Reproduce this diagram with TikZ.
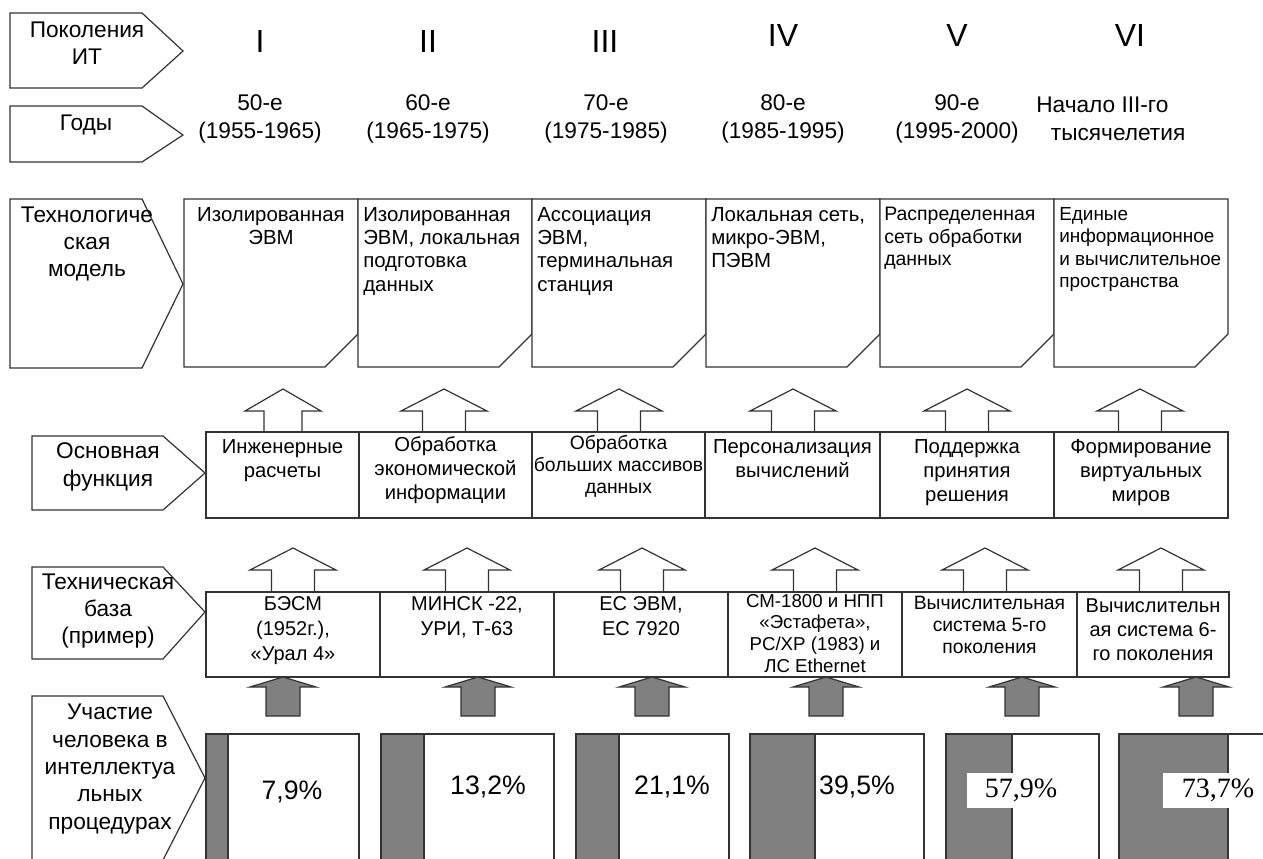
\documentclass[tikz,border=0pt]{standalone}
\usepackage{fontspec}
\setmainfont{Liberation Sans}
\newfontfamily\timesfont{Liberation Serif}
\begin{document}
\begin{tikzpicture}[x=0.75pt,y=-0.75pt,
  frame/.style={draw=black!80, line width=0.9pt, fill=white, line join=miter},
  lbl/.style={font=\fontsize{17}{20.5}\selectfont, align=center, inner sep=0pt},
  gen/.style={font=\fontsize{24}{28}\selectfont, inner sep=0pt},
  yrs/.style={font=\fontsize{17}{21}\selectfont, align=center, inner sep=0pt},
  doctxt/.style={font=\fontsize{15.3}{17.5}\selectfont, align=left, anchor=north west, inner sep=0pt},
  boxtxt/.style={font=\fontsize{15.2}{18}\selectfont, align=center, anchor=north, inner sep=0pt},
  pct/.style={font=\fontsize{20}{24}\selectfont, inner sep=0pt},
  pctserif/.style={font=\timesfont\fontsize{21}{24}\selectfont, inner sep=0pt},
  darkbar/.style={draw=black!80, line width=0.9pt, fill=black!50},
]
\clip (0,0) rectangle (1263,859);
\fill[white] (0,0) rectangle (1263,859);

% ---------- row headers (tags pointing right) ----------
\draw[frame] (10,13) -- (142,13) -- (183,51) -- (142,88) -- (10,88) -- cycle;
\node[lbl] (hgen) at (87,43) {Поколения\\ИТ};
\draw[frame] (10,106) -- (142,106) -- (183,135) -- (142,162) -- (10,162) -- cycle;
\node[lbl] (hyears) at (86,125) {Годы};
\draw[frame] (10,199) -- (142,199) -- (183,284) -- (142,368) -- (10,368) -- cycle;
\node[lbl] (hmodel) at (87,244) {Технологиче\\ская\\модель};
\draw[frame] (32,436) -- (163,436) -- (205,473) -- (163,510) -- (32,510) -- cycle;
\node[lbl] (hfunc) at (108,467) {Основная\\функция};
\draw[frame] (32,567) -- (163,567) -- (205,612) -- (163,659) -- (32,659) -- cycle;
\node[lbl] (hbase) at (108,611) {Техническая\\база\\(пример)};
\draw[frame] (32,696) -- (163,696) -- (205,778) -- (163,860) -- (32,860) -- cycle;
\node[lbl] (hman) at (110,769) {Участие\\человека в\\интеллектуа\\льных\\процедурах};

% ---------- generations and years ----------
\node[gen] (g1) at (260,41) {I};
\node[gen] (g2) at (428,41) {II};
\node[gen] (g3) at (605,41) {III};
\node[gen] (g4) at (783,35) {IV};
\node[gen] (g5) at (957,35) {V};
\node[gen] (g6) at (1130,35) {VI};

\node[yrs] (y1) at (260,119) {50-е\\(1955-1965)};
\node[yrs] (y2) at (428,119) {60-е\\(1965-1975)};
\node[yrs] (y3) at (606,119) {70-е\\(1975-1985)};
\node[yrs] (y4) at (783,119) {80-е\\(1985-1995)};
\node[yrs] (y5) at (957,119) {90-е\\(1995-2000)};
\node[yrs, align=left, anchor=west] (y6) at (1036,119) {Начало III-го\\\hspace*{11pt}тысячелетия};

% ---------- technological model: sheets with a cut corner ----------
\foreach \x in {184,358,532,706,880,1054}{
  \draw[frame] (\x,199) -- (\x+174,199) -- (\x+174,334) -- (\x+141,367) -- (\x,367) -- cycle;
}
\node[doctxt, align=center, anchor=north] (m1) at (271,207) {Изолированная\\ЭВМ};
\node[doctxt] (m2) at (363,207) {Изолированная\\ЭВМ, локальная\\подготовка\\данных};
\node[doctxt] (m3) at (537,207) {Ассоциация\\ЭВМ,\\терминальная\\станция};
\node[doctxt] (m4) at (711,207) {Локальная сеть,\\микро-ЭВМ,\\ПЭВМ};
\node[doctxt, font=\fontsize{14.6}{17}\selectfont] (m5) at (884,207) {Распределенная\\сеть обработки\\данных};
\node[doctxt, font=\fontsize{14.2}{16.8}\selectfont] (m6) at (1059,207) {Единые\\информационное\\и вычислительное\\пространства};

% ---------- hollow arrows up to the model row ----------
\foreach \c/\hw/\sw in {283/38/19,444/43/21.5,619/43/21.5,793/43/21.5,967/43/21.5,1140/43/21.5}{
  \draw[frame] (\c-\sw,432) -- (\c-\sw,411) -- (\c-\hw,411) -- (\c,389) -- (\c+\hw,411) -- (\c+\sw,411) -- (\c+\sw,432);
}

% ---------- main function row ----------
\foreach \a/\b in {206/359,359/532,532/705,705/880,880/1054,1054/1228}{
  \draw[frame] (\a,432) rectangle (\b,518);
}
\node[boxtxt] (f1) at (282.5,439) {Инженерные\\расчеты};
\node[boxtxt] (f2) at (445.5,436) {Обработка\\экономической\\информации};
\node[boxtxt, font=\fontsize{14.5}{16.5}\selectfont] (f3) at (618.5,435) {Обработка\\больших массивов\\данных};
\node[boxtxt] (f4) at (792.5,439) {Персонализация\\вычислений};
\node[boxtxt] (f5) at (967,439) {Поддержка\\принятия\\решения};
\node[boxtxt] (f6) at (1141,439) {Формирование\\виртуальных\\миров};

% ---------- hollow arrows up to the function row ----------
\foreach \c in {293,467,642,815,985,1161}{
  \draw[frame] (\c-21.5,592) -- (\c-21.5,570) -- (\c-43,570) -- (\c,548) -- (\c+43,570) -- (\c+21.5,570) -- (\c+21.5,592);
}

% ---------- technical base row ----------
\foreach \a/\b in {206/380,380/554,554/728,728/902,902/1077,1077/1229}{
  \draw[frame] (\a,592) rectangle (\b,677);
}
\node[boxtxt, font=\fontsize{15}{18.75}\selectfont] (b1) at (293,596) {БЭСМ\\(1952г.),\\«Урал 4»};
\node[boxtxt, font=\fontsize{15}{18.75}\selectfont] (b2) at (467,596) {МИНСК -22,\\УРИ, Т-63};
\node[boxtxt, font=\fontsize{15}{18.75}\selectfont] (b3) at (641,596) {ЕС ЭВМ,\\ЕС 7920};
\node[boxtxt, font=\fontsize{14}{16.2}\selectfont] (b4) at (815,594) {СМ-1800 и НПП\\«Эстафета»,\\PC/XP (1983) и\\ЛС Ethernet};
\node[boxtxt, font=\fontsize{14.5}{16.5}\selectfont] (b5) at (989.5,596) {Вычислительная\\система 5-го\\поколения};
\node[boxtxt, font=\fontsize{15}{18}\selectfont] (b6) at (1153,598) {Вычислительн\\ая система 6-\\го поколения};

% ---------- filled arrows up to the technical base ----------
\foreach \c in {283,478,652,826,1022,1196}{
  \draw[darkbar] (\c-17,716) -- (\c-17,687) -- (\c-33,687) -- (\c,677) -- (\c+33,687) -- (\c+17,687) -- (\c+17,716) -- cycle;
}

% ---------- share of human participation ----------
\foreach \a/\d/\b in {206/228/359,381/424/554,576/619/729,750/815/924,946/1012/1099,1119/1228/1272}{
  \draw[frame] (\a,734) rectangle (\b,880);
  \draw[darkbar] (\a,734) rectangle (\d,880);
}
\node[pct] (p1) at (292,792) {7,9\%};
\node[pct] (p2) at (488,787) {13,2\%};
\node[pct] (p3) at (672,787) {21,1\%};
\node[pct] (p4) at (857,787) {39,5\%};
\fill[white] (967,773) rectangle (1072,808);
\node[pctserif] (p5) at (1021,790) {57,9\%};
\fill[white] (1163,773) rectangle (1263,808);
\node[pctserif] (p6) at (1218,790) {73,7\%};
\end{tikzpicture}
\end{document}
